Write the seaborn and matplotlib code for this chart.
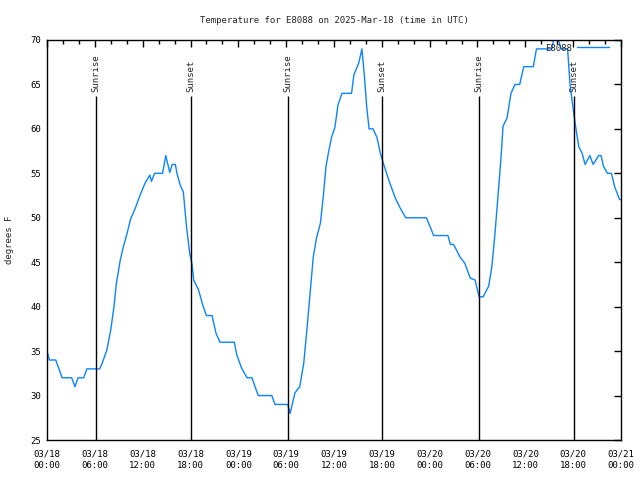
import matplotlib
matplotlib.use('Agg')
import matplotlib.pyplot as plt
import seaborn as sns
import numpy as np
from matplotlib.ticker import MultipleLocator

sns.set_style('white')
plt.rcParams['font.family'] = ['DejaVu Sans Mono']
plt.rcParams['font.size'] = 6.5

# hours since 2025-03-18 00:00 UTC
hours = [0.0, 0.3, 1.1, 1.9, 3.1, 3.5, 3.9, 4.6, 5.0, 6.6, 6.9, 7.5, 8.0, 8.4, 8.7,
         9.2, 9.6, 10.0, 10.5, 11.0, 11.7, 12.3, 12.9, 13.1, 13.5, 14.5, 14.9, 15.4,
         15.7, 16.1, 16.3, 16.7, 17.1, 17.5, 17.9, 18.2, 18.4, 19.0, 19.6, 20.0, 20.7,
         21.2, 21.7, 23.5, 23.8, 24.4, 25.1, 25.7, 26.5, 28.2, 28.6, 30.2, 30.5, 31.1,
         31.7, 32.2, 32.6, 33.0, 33.4, 33.8, 34.3, 34.7, 35.0, 35.3, 35.7, 36.1, 36.5,
         37.0, 38.2, 38.5, 39.1, 39.5, 39.8, 40.1, 40.4, 40.9, 41.4, 41.8, 42.2, 43.0,
         43.7, 44.3, 45.0, 47.6, 48.5, 50.3, 50.6, 51.0, 51.8, 52.4, 53.1, 53.7, 54.2,
         54.7, 55.4, 55.8, 56.2, 56.7, 57.0, 57.2, 57.7, 58.2, 58.7, 59.3, 59.8, 61.0,
         61.4, 63.3, 63.8, 64.5, 65.3, 65.6, 65.8, 66.25, 66.7, 67.1, 67.5, 68.1, 68.5,
         69.2, 69.5, 69.8, 70.3, 70.8, 71.2, 71.8, 72.0]
temps = [35, 34, 34, 32, 32, 31, 32, 32, 33, 33, 33.6, 35.1, 37.4, 40, 42.6,
         45.3, 46.8, 48.1, 49.9, 50.9, 52.6, 53.9, 54.8, 54.1, 55, 55, 57, 55.1,
         56, 56, 55, 53.7, 52.9, 49, 46, 44.7, 43, 41.9, 40, 39, 39,
         37, 36, 36, 34.6, 33.1, 32, 32, 30, 30, 29, 29, 28, 30.3,
         31, 33.6, 37.4, 41.5, 45.6, 47.7, 49.4, 52.8, 55.8, 57.3, 59.1, 60.1, 62.7,
         64, 64, 66.1, 67.4, 69, 66.1, 62.5, 60, 60, 59, 57.3, 56.1, 53.9,
         52.2, 51.1, 50, 50, 48, 48, 47, 47, 45.6, 44.9, 43.2, 43, 41.1,
         41.1, 42.3, 44.5, 48.3, 53.9, 57.4, 60.3, 61.2, 64, 65, 65, 67, 67,
         69, 69, 71, 69, 69, 65.1, 63.6, 60.6, 58, 57.3, 56, 57, 56,
         57, 57, 55.8, 55, 55, 53.5, 52.1, 52]

sunrise = [6.15, 30.25, 54.2]
sunset = [18.07, 42.05, 66.15]
xtick_labels = ['03/18\n00:00', '03/18\n06:00', '03/18\n12:00', '03/18\n18:00',
                '03/19\n00:00', '03/19\n06:00', '03/19\n12:00', '03/19\n18:00',
                '03/20\n00:00', '03/20\n06:00', '03/20\n12:00', '03/20\n18:00',
                '03/21\n00:00']

fig = plt.figure(figsize=(6.4, 4.8), dpi=100)
ax = fig.add_axes([47/640, 40/480, 574/640, 400/480])

sns.lineplot(x=hours, y=temps, color='#0a84ff', linewidth=1, label='E8088', ax=ax)

for h in sunrise:
    ax.vlines(h, 25, 63.7, color='black', linewidth=1)
    ax.text(h, 64.2, 'Sunrise', rotation=90, ha='center', va='bottom', fontsize=6.5)
for h in sunset:
    ax.vlines(h, 25, 63.7, color='black', linewidth=1)
    ax.text(h, 64.2, 'Sunset', rotation=90, ha='center', va='bottom', fontsize=6.5)

ax.set_xlim(0, 72)
ax.set_ylim(25, 70)
ax.set_xticks(np.arange(0, 73, 6))
ax.set_xticklabels(xtick_labels, linespacing=1.35)
ax.xaxis.set_minor_locator(MultipleLocator(2))
ax.set_yticks(np.arange(25, 71, 5))
ax.tick_params(which='both', direction='in', top=True, right=True, colors='black')
ax.tick_params(which='major', length=5, width=1, pad=4)
ax.tick_params(axis='x', which='major', pad=7)
ax.tick_params(which='minor', length=3, width=1)
for s in ax.spines.values():
    s.set_color('black')
    s.set_linewidth(1)

ax.set_title('Temperature for E8088 on 2025-Mar-18 (time in UTC)', fontsize=6.5, pad=12)
ax.set_ylabel('degrees F', fontsize=6.5, labelpad=12)
ax.set_xlabel('')

ax.legend(loc='upper right', frameon=False, markerfirst=False, handlelength=3.5,
          borderaxespad=0.2, borderpad=0.2, handletextpad=0.6, fontsize=6.5,
          bbox_to_anchor=(0.985, 1.0))

fig.savefig('out.png', dpi=100)
